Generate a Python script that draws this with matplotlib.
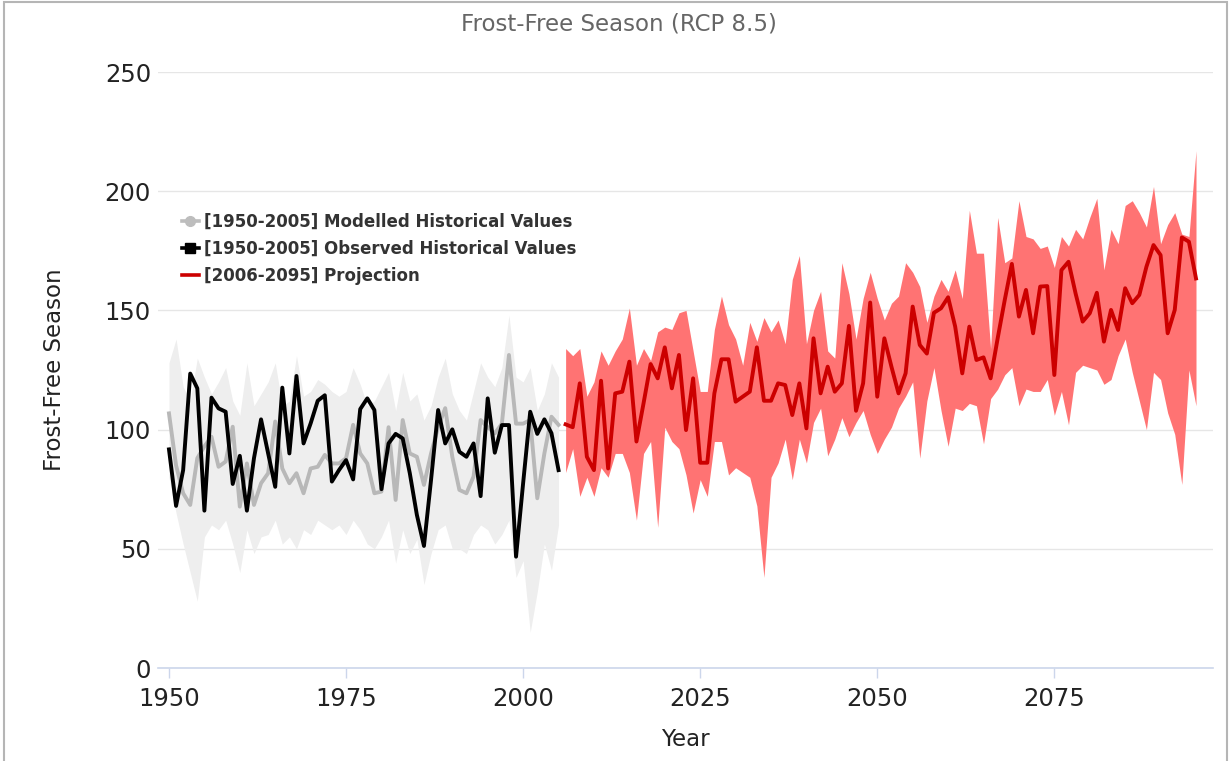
import matplotlib
matplotlib.use("Agg")
import matplotlib.pyplot as plt
from matplotlib.lines import Line2D
from matplotlib.patches import Rectangle

# Годы
years_hist = list(range(1950, 2006))
years_proj = list(range(2006, 2096))

# Наблюдённые значения 1950-2005
observed = [91.7, 68.0, 83.0, 123.5, 117.3, 66.0, 113.4, 108.9, 107.5, 77.2,
            89.0, 66.0, 88.0, 104.3, 90.0, 76.0, 117.6, 90.0, 122.5, 94.2,
            102.6, 112.1, 114.4, 78.2, 83.0, 87.2, 79.1, 108.6, 113.1, 108.2,
            75.0, 94.2, 98.2, 96.3, 81.7, 64.2, 51.2, 78.9, 108.2, 94.2,
            100.1, 90.7, 88.6, 94.2, 72.1, 113.1, 90.3, 101.9, 101.9, 46.7,
            77.5, 107.5, 98.2, 104.3, 98.5, 83.0]

# Модельные значения 1950-2005 и их разброс
modelled = [106.8, 85.0, 73.3, 68.4, 88.0, 93.0, 97.0, 84.4, 86.6, 101.2,
            67.7, 85.8, 68.4, 77.5, 81.7, 103.4, 83.7, 77.5, 81.7, 73.3,
            83.7, 84.4, 89.4, 85.8, 85.8, 88.0, 102.0, 90.0, 85.8, 73.3,
            74.0, 101.0, 70.5, 104.0, 90.0, 88.6, 76.8, 90.0, 101.0, 109.0,
            88.6, 74.7, 73.3, 80.3, 104.0, 101.0, 98.4, 102.5, 131.3, 102.5,
            102.5, 104.0, 71.2, 90.0, 105.4, 102.0]
modelled_hi = [128, 138, 118, 112, 130, 122, 115, 120, 126, 112,
               106, 128, 110, 115, 120, 128, 110, 112, 131, 114,
               116, 121, 119, 116, 114, 116, 126, 119, 110, 112,
               118, 124, 108, 124, 112, 115, 104, 110, 122, 130,
               115, 108, 104, 116, 128, 122, 118, 126, 148, 122,
               120, 126, 108, 115, 128, 122]
modelled_lo = [80, 65, 52, 40, 28, 55, 60, 58, 62, 52,
               40, 58, 48, 55, 56, 62, 52, 55, 50, 58,
               56, 62, 60, 58, 60, 56, 62, 58, 52, 50,
               55, 62, 44, 58, 48, 54, 35, 48, 58, 60,
               50, 50, 48, 56, 60, 58, 52, 56, 62, 38,
               45, 15, 32, 52, 41, 60]

# Прогноз 2006-2095 (RCP 8.5)
projection = [102.2, 101.0, 119.4, 88.6, 83.0, 120.5, 83.7, 115.2, 115.9, 128.5,
              95.0, 111.0, 127.5, 121.5, 134.5, 117.3, 131.3, 99.8, 121.5, 86.1,
              86.1, 115.2, 129.5, 129.5, 111.7, 113.8, 115.9, 134.5, 112.1, 112.1,
              119.4, 118.7, 106.1, 119.4, 100.5, 138.3, 115.2, 126.4, 115.9, 119.4,
              143.5, 107.9, 119.4, 153.3, 113.8, 138.3, 126.4, 115.2, 123.6, 151.6,
              135.5, 131.9, 149.0, 150.9, 155.5, 143.2, 123.6, 143.2, 129.2, 130.3,
              121.5, 138.3, 154.4, 169.5, 147.4, 158.6, 140.4, 160.0, 160.2, 122.9,
              166.9, 170.4, 157.1, 145.3, 148.8, 157.4, 136.9, 150.2, 141.8, 159.3,
              153.0, 156.5, 168.3, 177.4, 173.2, 140.4, 150.2, 180.6, 178.8, 163.4]
projection_hi = [134, 131, 134, 114, 120, 133, 127, 133, 138, 151,
                 127, 134, 129, 141, 143, 142, 149, 150, 133, 116,
                 116, 142, 156, 144, 138, 127, 145, 137, 147, 141,
                 146, 136, 163, 173, 136, 150, 158, 133, 130, 170,
                 157, 138, 155, 166, 155, 146, 153, 156, 170, 166,
                 160, 145, 156, 163, 158, 167, 155, 192, 174, 174,
                 134, 189, 170, 172, 196, 181, 180, 176, 177, 168,
                 181, 177, 184, 180, 189, 197, 167, 184, 178, 194,
                 196, 191, 185, 202, 178, 186, 191, 182, 181, 217]
projection_lo = [82, 92, 72, 80, 72, 84, 80, 90, 90, 82,
                 62, 90, 95, 59, 101, 95, 92, 81, 65, 79,
                 72, 95, 95, 81, 84, 82, 80, 68, 38, 80,
                 86, 96, 79, 96, 86, 103, 109, 89, 96, 105,
                 97, 103, 108, 98, 90, 96, 101, 109, 114, 120,
                 88, 112, 126, 108, 93, 109, 108, 111, 110, 94,
                 113, 117, 123, 126, 110, 117, 116, 116, 121, 106,
                 116, 102, 124, 127, 126, 125, 119, 121, 131, 138,
                 124, 112, 100, 124, 121, 107, 98, 77, 125, 110]

legend_labels = ["[1950-2005] Modelled Historical Values",
                 "[1950-2005] Observed Historical Values",
                 "[2006-2095] Projection"]

plt.rcParams['font.family'] = ['DejaVu Sans']

fig = plt.figure(figsize=(12.3, 7.61), dpi=100)
ax = fig.add_axes([158 / 1230, 93 / 761, 1055 / 1230, 596 / 761])

# диапазоны
ax.fill_between(years_hist, modelled_lo, modelled_hi, color='#eeeeee', lw=0, zorder=1)
ax.fill_between(years_proj, projection_lo, projection_hi, color='#ff7373', lw=0, zorder=1)

# линии
ax.plot(years_hist, modelled, color='#b8b8b8', lw=2.8, solid_joinstyle='round', zorder=3)
ax.plot(years_hist, observed, color='black', lw=2.8, solid_joinstyle='round', zorder=4)
ax.plot(years_proj, projection, color='#cc0000', lw=2.8, solid_joinstyle='round', zorder=4)

ax.set_xlim(1948.45, 2097.4)
ax.set_ylim(0, 250)
ax.set_yticks([0, 50, 100, 150, 200, 250])
ax.set_xticks([1950, 1975, 2000, 2025, 2050, 2075])
ax.grid(axis='y', color='#e6e6e6', lw=1)
ax.set_axisbelow(True)
for s in ['top', 'right', 'left']:
    ax.spines[s].set_visible(False)
ax.spines['bottom'].set_color('#ccd6eb')
ax.spines['bottom'].set_linewidth(1.2)
ax.tick_params(axis='x', direction='out', length=7, width=1, color='#ccd6eb',
               labelsize=17.5, labelcolor='#222222', pad=7)
ax.tick_params(axis='y', length=0, labelsize=17.5, labelcolor='#222222', pad=5)

ax.set_xlabel('Year', fontsize=16.5, color='#222222', labelpad=12)
ax.set_ylabel('Frost-Free Season', fontsize=16.5, color='#222222', labelpad=28)
fig.text(0.503, 0.968, 'Frost-Free Season (RCP 8.5)', ha='center', va='center',
         fontsize=16.5, color='#666666')

handles = [Line2D([], [], color='#bdbdbd', lw=2.6, marker='o', ms=7),
           Line2D([], [], color='black', lw=2.6, marker='s', ms=7),
           Line2D([], [], color='#cc0000', lw=2.6)]
ax.legend(handles, legend_labels, loc='upper left', bbox_to_anchor=(0.015, 0.778),
          frameon=False, borderpad=0, handlelength=1.0, handletextpad=0.3,
          labelspacing=0.55, prop={'weight': 'bold', 'size': 12}, labelcolor='#333333')

# рамка
fig.patches.append(Rectangle((4 / 1230, -0.01), 1223 / 1230, 1.0 - 2 / 761 + 0.01,
                             transform=fig.transFigure, fill=False,
                             edgecolor='#b5b5b5', lw=1.5))

fig.savefig('out.png', dpi=100)
